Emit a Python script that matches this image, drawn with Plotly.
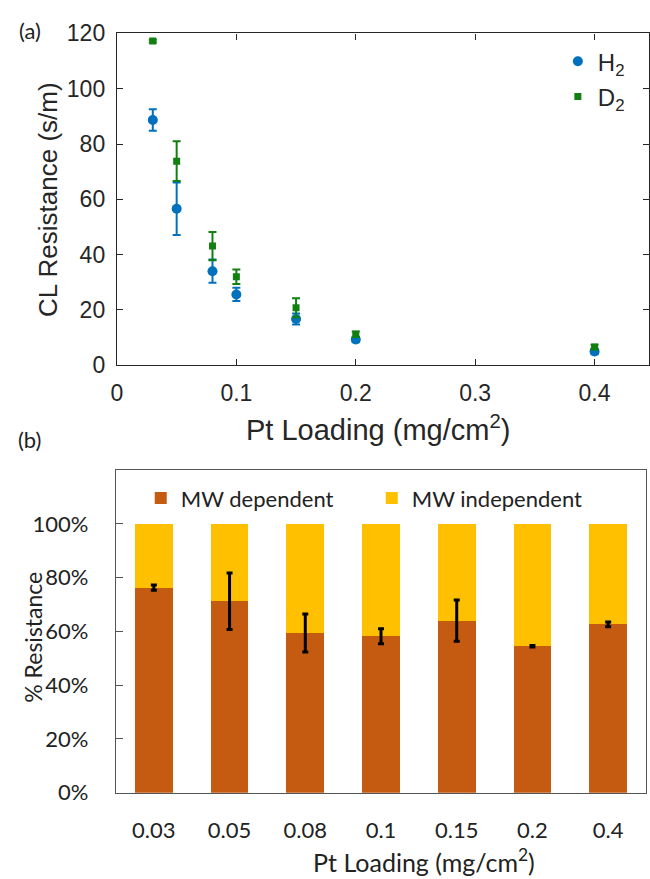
import plotly.graph_objects as go

# ---------- data: panel (a) ----------
loading = [0.03, 0.05, 0.08, 0.1, 0.15, 0.2, 0.4]
h2_res = [88.7, 56.6, 34.0, 25.6, 16.7, 9.3, 5.0]
h2_err = [3.9, 9.5, 4.2, 2.4, 2.0, 1.0, 1.0]
d2_res = [117.2, 73.8, 43.1, 32.0, 20.8, 11.2, 6.6]
d2_err = [0.5, 7.2, 5.1, 2.6, 3.4, 1.0, 0.8]

# ---------- data: panel (b) ----------
cats = ["0.03", "0.05", "0.08", "0.1", "0.15", "0.2", "0.4"]
mw_dep = [0.763, 0.712, 0.594, 0.582, 0.640, 0.545, 0.626]
mw_dep_err = [0.010, 0.105, 0.071, 0.028, 0.077, 0.003, 0.009]
mw_indep = [0.237, 0.288, 0.406, 0.418, 0.360, 0.455, 0.374]

W, H = 650, 879
BLUE = "#0072BD"
GREEN = "#118011"
DEP = "#C55A11"
INDEP = "#FFC000"
AX = "#262626"
ARIAL = "Liberation Sans, Arial, sans-serif"
CAL = "Lato, sans-serif"


def px(x):
    return x / W


def py(y):
    return 1 - y / H


fig = go.Figure()

fig.add_trace(go.Scatter(
    x=loading, y=h2_res, mode="markers", name="H<sub>2</sub>",
    marker=dict(symbol="circle", size=10, color=BLUE),
    error_y=dict(type="data", array=h2_err, color=BLUE, thickness=2, width=4),
    xaxis="x", yaxis="y", legend="legend", legendgroup="h2",
))
fig.add_trace(go.Scatter(
    x=loading, y=d2_res, mode="markers", name="D<sub>2</sub>",
    marker=dict(symbol="square", size=7, color=GREEN),
    error_y=dict(type="data", array=d2_err, color=GREEN, thickness=2, width=4),
    xaxis="x", yaxis="y", legend="legend", legendgroup="d2",
))

fig.add_trace(go.Bar(
    x=cats, y=mw_dep, name="MW dependent", marker=dict(color=DEP, line=dict(width=0)),
    xaxis="x2", yaxis="y2", legend="legend2",
))
fig.add_trace(go.Bar(
    x=cats, y=mw_indep, name="MW independent", marker=dict(color=INDEP, line=dict(width=0)),
    xaxis="x2", yaxis="y2", legend="legend2",
))
fig.add_trace(go.Scatter(
    x=cats, y=mw_dep, mode="markers", marker=dict(size=0.1, color="black", opacity=0),
    error_y=dict(type="data", array=mw_dep_err, color="black", thickness=3, width=3),
    xaxis="x2", yaxis="y2", showlegend=False, hoverinfo="skip",
))

fig.update_layout(
    width=W, height=H,
    margin=dict(l=0, r=0, t=0, b=0),
    paper_bgcolor="white", plot_bgcolor="white",
    barmode="stack", bargap=0.5,
    xaxis=dict(
        domain=[px(112), px(649)], range=[0, 0.4456],
        tickvals=[0, 0.1, 0.2, 0.3, 0.4], ticktext=["0", "0.1", "0.2", "0.3", "0.4"],
        ticks="inside", ticklen=6, tickwidth=1.3, tickcolor=AX,
        showline=True, linecolor=AX, linewidth=1.3, mirror="ticks",
        showgrid=False, zeroline=False,
        tickfont=dict(family=ARIAL, size=23, color="#262626"),
        ticklabelstandoff=7,
    ),
    yaxis=dict(
        domain=[py(363), py(21)], range=[0, 120],
        tickvals=[0, 20, 40, 60, 80, 100, 120],
        ticks="inside", ticklen=6, tickwidth=1.3, tickcolor=AX,
        showline=True, linecolor=AX, linewidth=1.3, mirror="ticks",
        showgrid=False, zeroline=False,
        tickfont=dict(family=ARIAL, size=23, color="#262626"),
        ticklabelstandoff=6,
    ),
    xaxis2=dict(
        domain=[px(111), px(646)], anchor="y2",
        ticks="", showline=True, linecolor="#555555", linewidth=1.3, mirror=True,
        showgrid=False, zeroline=False,
        tickfont=dict(family=CAL, size=22, color="#222222"),
        ticklabelstandoff=18,
    ),
    yaxis2=dict(
        domain=[py(803.5), py(471)], anchor="x2", range=[0, 1.2],
        tickvals=[0, 0.2, 0.4, 0.6, 0.8, 1.0], tickformat=".0%",
        ticks="inside", ticklen=7, tickwidth=1.3, tickcolor="#555555",
        showline=True, linecolor="#555555", linewidth=1.3, mirror=True,
        showgrid=False, zeroline=False,
        tickfont=dict(family=CAL, size=22, color="#222222"),
        ticklabelstandoff=22,
    ),
    legend=dict(
        x=px(557), y=py(27), xanchor="left", yanchor="top",
        bgcolor="rgba(0,0,0,0)", font=dict(family=ARIAL, size=24, color="#262626"),
        tracegroupgap=1,
    ),
    legend2=dict(
        orientation="h", x=px(136), y=py(500), xanchor="left", yanchor="middle",
        bgcolor="rgba(0,0,0,0)", font=dict(family=CAL, size=22, color="#222222"),
        traceorder="normal", entrywidth=186, entrywidthmode="pixels",
    ),
    showlegend=True,
)

ann = [
    dict(text="(a)", x=px(24), y=py(18), font=dict(family=CAL, size=22, color="#222222")),
    dict(text="(b)", x=px(24), y=py(440), font=dict(family=CAL, size=22, color="#222222")),
    dict(text="CL Resistance (s/m)", x=px(43), y=py(192), textangle=-90,
         font=dict(family=ARIAL, size=26, color="#262626")),
    dict(text="Pt Loading (mg/cm<sup>2</sup>)", x=px(375), y=py(428),
         font=dict(family=ARIAL, size=29, color="#262626")),
    dict(text="% Resistance", x=px(27), y=py(643), textangle=-90,
         font=dict(family=CAL, size=23, color="#222222")),
    dict(text="Pt Loading (mg/cm<sup>2</sup>)", x=px(422), y=py(873),
         font=dict(family=CAL, size=25, color="#222222")),
]
for a in ann:
    a.update(xref="paper", yref="paper", showarrow=False, xanchor="center", yanchor="middle")
fig.update_layout(annotations=ann)

fig.write_html("out.html")
